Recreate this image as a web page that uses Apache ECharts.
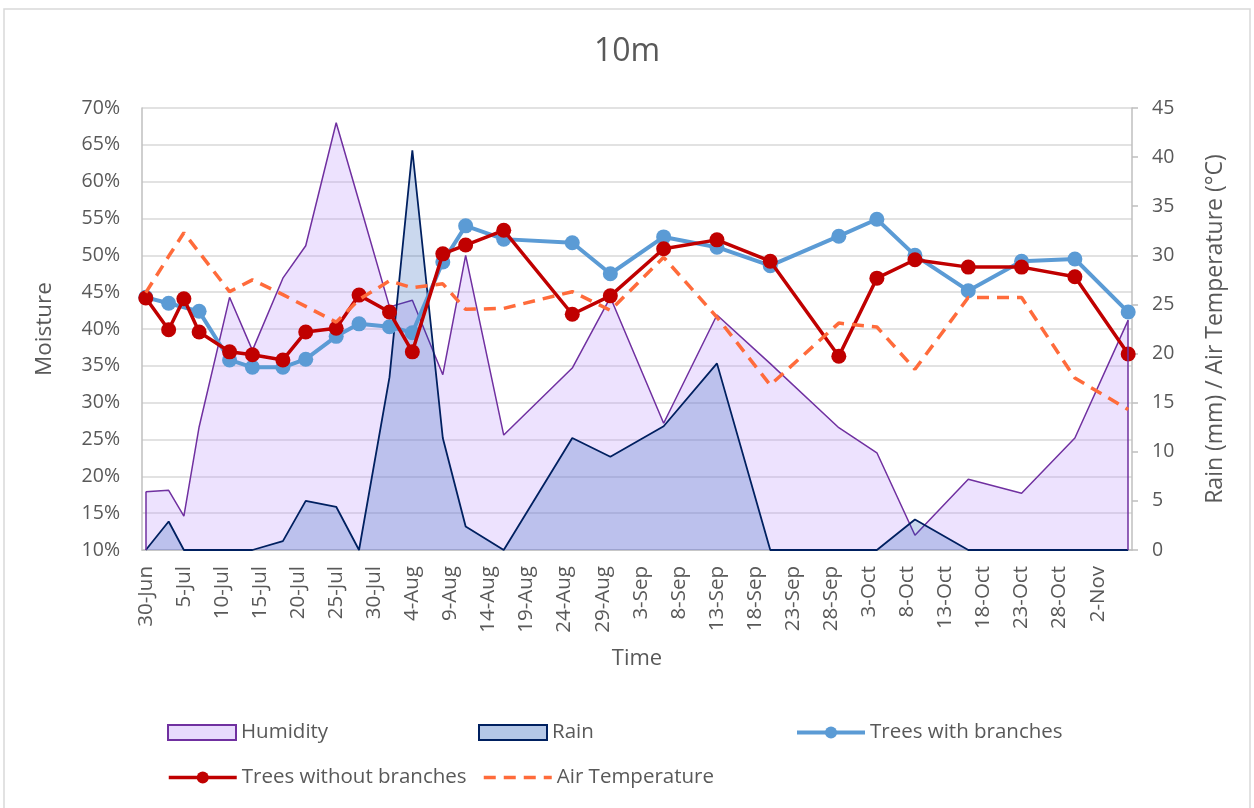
<!DOCTYPE html>
<html>
<head>
<meta charset="utf-8">
<title>10m</title>
<script src="https://cdn.jsdelivr.net/npm/echarts@6/dist/echarts.min.js"></script>
<style>
  html, body { margin: 0; padding: 0; background: #fff; }
  #chart { width: 1254px; height: 808px; }
</style>
</head>
<body>
<div id="chart"></div>
<script>
// measurement dates (day-Mon)
const sampleDates = [
  '30-Jun', '3-Jul', '5-Jul', '7-Jul', '11-Jul', '14-Jul', '18-Jul', '21-Jul', '25-Jul', '28-Jul',
  '1-Aug', '4-Aug', '8-Aug', '11-Aug', '16-Aug', '25-Aug', '30-Aug', '6-Sep', '13-Sep', '20-Sep',
  '29-Sep', '4-Oct', '9-Oct', '16-Oct', '23-Oct', '30-Oct', '6-Nov'
];
// humidity, % (left axis)
const humidity = [
  17.9, 18.1, 14.6, 26.7, 44.3, 37.1, 46.9, 51.3, 68.0, 57.3,
  43.0, 43.9, 33.8, 50.0, 25.6, 34.7, 44.3, 27.2, 41.9, 35.3,
  26.6, 23.2, 12.0, 19.6, 17.7, 25.2, 41.2
];
// rain, mm (right axis)
const rain = [
  0, 2.9, 0, 0, 0, 0, 0.9, 5.0, 4.4, 0,
  17.6, 40.7, 11.4, 2.4, 0, 11.4, 9.5, 12.6, 19.0, 0,
  0, 0, 3.1, 0, 0, 0, 0
];
// moisture, % (left axis)
const withBranches = [
  44.3, 43.5, null, 42.4, 35.8, 34.8, 34.8, 35.9, 39.0, 40.7,
  40.3, 39.5, 49.1, 54.0, 52.2, 51.7, 47.5, 52.5, 51.1, 48.6,
  52.6, 54.9, 50.0, 45.2, 49.2, 49.5, 42.3
];
const withoutBranches = [
  44.2, 39.9, 44.1, 39.6, 36.9, 36.5, 35.8, 39.6, 40.1, 44.6,
  42.3, 36.9, 50.2, 51.4, 53.4, 42.0, 44.5, 50.9, 52.1, 49.2,
  36.3, 46.9, 49.4, 48.4, 48.4, 47.1, 36.6
];
// air temperature, °C (right axis)
const airTemp = [
  26.2, 29.9, 32.3, 30.3, 26.3, 27.5, 26.0, 24.8, 23.2, 25.5,
  27.4, 26.7, 27.1, 24.5, 24.6, 26.3, 24.4, 29.8, 23.7, 16.8,
  23.1, 22.7, 18.4, 25.7, 25.7, 17.5, 14.3
];

// axis: one category per day, 30-Jun .. 6-Nov
const firstDay = new Date(2019, 5, 30);
const dayCount = 130;
const months = ['Jan','Feb','Mar','Apr','May','Jun','Jul','Aug','Sep','Oct','Nov','Dec'];
const days = [];
for (let i = 0; i < dayCount; i++) {
  const d = new Date(firstDay.getFullYear(), firstDay.getMonth(), firstDay.getDate() + i);
  days.push(d.getDate() + '-' + months[d.getMonth()]);
}

const pairs = vals => sampleDates.map((d, i) => [d, vals[i]]);
const lastIdx = sampleDates.length - 1;

const grey = '#595959';
const font = 'Open Sans';

const chart = echarts.init(document.getElementById('chart'));
const legendBase = {
  padding: 0,
  itemWidth: 68,
  itemHeight: 15,
  itemGap: 8,
  textStyle: { color: grey, fontSize: 20.5, fontFamily: font }
};
chart.setOption({
  animation: false,
  textStyle: { fontFamily: font },
  graphic: [{
    type: 'rect',
    shape: { x: 4, y: 9, width: 1246, height: 820 },
    style: { fill: 'none', stroke: '#d9d9d9', lineWidth: 1.5 },
    silent: true
  }],
  title: {
    text: '10m',
    left: 'center',
    top: 31,
    textStyle: { color: grey, fontSize: 32, fontWeight: 'normal', fontFamily: font }
  },
  legend: [
    Object.assign({ left: 167, top: 722, data: [{ name: 'Humidity', icon: 'rect',
      itemStyle: { color: '#e8dafd', borderColor: '#7030a0', borderWidth: 2 } }] }, legendBase),
    Object.assign({ left: 478, top: 722, data: [{ name: 'Rain', icon: 'rect',
      itemStyle: { color: '#b4c7e7', borderColor: '#002060', borderWidth: 2 } }] }, legendBase),
    Object.assign({ left: 795, top: 722, data: [{ name: 'Trees with branches',
      lineStyle: { width: 4 } }] }, legendBase),
    Object.assign({ left: 167, top: 767, data: [{ name: 'Trees without branches',
      lineStyle: { width: 3.5 } }] }, legendBase),
    Object.assign({ left: 482, top: 767, data: [{ name: 'Air Temperature',
      itemStyle: { opacity: 0 }, lineStyle: { width: 3.5 } }] }, legendBase)
  ],
  grid: { left: 142, right: 122, top: 108, bottom: 258, containLabel: false },
  xAxis: {
    type: 'category',
    data: days,
    boundaryGap: true,
    name: 'Time',
    nameLocation: 'middle',
    nameGap: 98,
    nameTextStyle: { color: grey, fontSize: 22, fontFamily: font },
    axisLine: { lineStyle: { color: '#bfbfbf', width: 1.5 } },
    axisTick: { show: false },
    axisLabel: { interval: 4, rotate: 90, margin: 16, color: grey, fontSize: 20.5, fontFamily: font },
    splitLine: { show: false }
  },
  yAxis: [{
    type: 'value',
    min: 10, max: 70, interval: 5,
    name: 'Moisture',
    nameLocation: 'middle',
    nameRotate: 90,
    nameGap: 86,
    nameTextStyle: { color: grey, fontSize: 22.5, fontFamily: font },
    axisLine: { show: true, lineStyle: { color: '#bfbfbf', width: 1.5 } },
    axisTick: { show: false },
    axisLabel: { formatter: '{value}%', color: grey, fontSize: 19.5, margin: 22, fontFamily: font },
    splitLine: { lineStyle: { color: '#d9d9d9', width: 1.5 } }
  }, {
    type: 'value',
    min: 0, max: 45, interval: 5,
    position: 'right',
    name: 'Rain (mm) / Air Temperature (°C)',
    nameLocation: 'middle',
    nameRotate: 90,
    nameGap: 72,
    nameTextStyle: { color: grey, fontSize: 23, fontFamily: font },
    axisLine: { show: true, lineStyle: { color: '#bfbfbf', width: 1.5 } },
    axisTick: { show: true, inside: false, length: 6, lineStyle: { color: '#bfbfbf', width: 1.5 } },
    axisLabel: { color: grey, fontSize: 19.5, margin: 20, fontFamily: font },
    splitLine: { show: false }
  }],
  series: [{
    name: 'Humidity',
    type: 'line',
    yAxisIndex: 0,
    data: pairs(humidity),
    symbol: 'none',
    lineStyle: { color: '#7030a0', width: 1.5 },
    itemStyle: { color: '#e8dafd', borderColor: '#7030a0' },
    areaStyle: { color: 'rgba(190,150,250,0.4)' },
    // closing edges of the area at both ends
    markLine: {
      silent: true,
      symbol: 'none',
      label: { show: false },
      lineStyle: { color: '#7030a0', width: 1.5, type: 'solid' },
      data: [
        [{ coord: [sampleDates[0], 10] }, { coord: [sampleDates[0], humidity[0]] }],
        [{ coord: [sampleDates[lastIdx], 10] }, { coord: [sampleDates[lastIdx], humidity[lastIdx]] }]
      ]
    },
    z: 1
  }, {
    name: 'Rain',
    type: 'line',
    yAxisIndex: 1,
    data: pairs(rain),
    symbol: 'none',
    lineStyle: { color: '#002060', width: 1.8 },
    itemStyle: { color: '#b4c7e7', borderColor: '#002060' },
    areaStyle: { color: 'rgba(20,80,180,0.32)' },
    z: 2
  }, {
    name: 'Trees with branches',
    type: 'line',
    yAxisIndex: 0,
    data: pairs(withBranches),
    connectNulls: true,
    symbol: 'circle',
    symbolSize: 15,
    showAllSymbol: true,
    lineStyle: { color: '#5b9bd5', width: 4 },
    itemStyle: { color: '#5b9bd5' },
    z: 3
  }, {
    name: 'Trees without branches',
    type: 'line',
    yAxisIndex: 0,
    data: pairs(withoutBranches),
    symbol: 'circle',
    symbolSize: 15,
    showAllSymbol: true,
    lineStyle: { color: '#c00000', width: 3.5 },
    itemStyle: { color: '#c00000' },
    z: 4
  }, {
    name: 'Air Temperature',
    type: 'line',
    yAxisIndex: 1,
    data: pairs(airTemp),
    symbol: 'none',
    lineStyle: { color: '#ff6b3b', width: 3.5, type: [12, 8] },
    itemStyle: { color: '#ff6b3b' },
    z: 5
  }]
});
</script>
</body>
</html>
